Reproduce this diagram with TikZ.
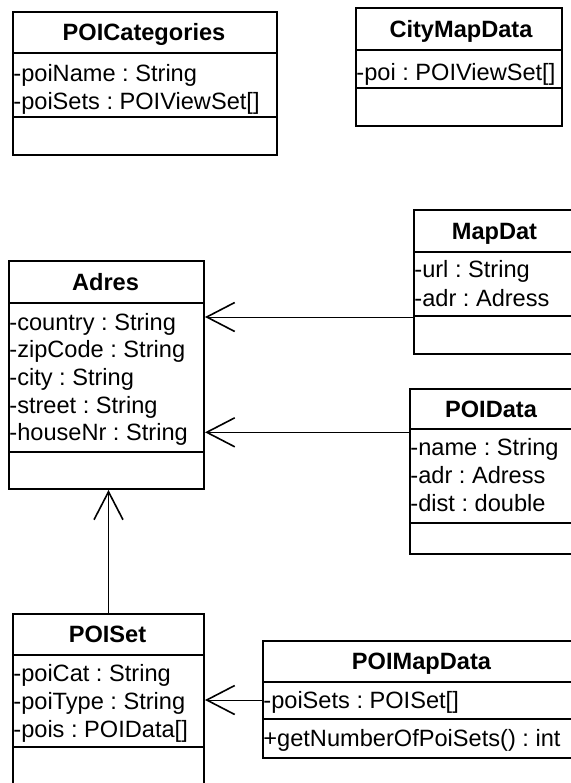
\documentclass[tikz,border=0pt]{standalone}
\usepackage{fontspec}
\setmainfont{Liberation Sans}
\usetikzlibrary{arrows.meta}
\frenchspacing

% A UML class box: name, left, top, right, bottom, first and second separator
\newcommand\umlclass[7]{%
  \node[umlbox, anchor=north west,
        minimum width={(#4-#2)*0.5pt}, minimum height={(#5-#3)*0.5pt}] (#1) at (#2,#3) {};
  \draw[sepline] (#1.west |- 0,#6) -- (#1.east |- 0,#6);
  \draw[sepline] (#1.west |- 0,#7) -- (#1.east |- 0,#7);
}

\begin{document}
\begin{tikzpicture}[x=0.5pt,y=-0.5pt,
  umlbox/.style={draw, line width=1pt, inner sep=0pt},
  sepline/.style={line width=1pt},
  classname/.style={font=\fontsize{11.8pt}{13.8pt}\selectfont\bfseries,
                    inner sep=0pt, text height=8.5pt, text depth=0pt},
  member/.style={font=\fontsize{11.8pt}{13.8pt}\selectfont,
                 inner sep=0pt, text height=8.5pt, text depth=0pt, anchor=west},
  assoc/.style={line width=0.5pt,
                -{Straight Barb[length=14pt,width=14.5pt,line width=0.8pt]}}
]
\useasboundingbox (0,0) rectangle (571,783);

% class boxes
\umlclass{poicat}{12}{11}{276}{154}{53}{117}
\umlclass{citymap}{355}{7}{561}{125}{50}{88}
\umlclass{adres}{8}{260}{203}{488}{303}{452}
\umlclass{mapdat}{413}{209}{576}{353}{252}{316}
\umlclass{poidata}{409}{388}{573}{553}{429}{523}
\umlclass{poiset}{12}{613}{203}{790}{655}{747}
\umlclass{poimap}{262}{640}{581}{757}{682}{719}

% class names
\node[classname] (poicat-t)  at (144,32)    {POICategories};
\node[classname] (citymap-t) at (461,28.5)  {CityMapData};
\node[classname] (adres-t)   at (105.5,281.5) {Adres};
\node[classname] (mapdat-t)  at (494.5,230.5) {MapDat};
\node[classname] (poidata-t) at (491,408.5) {POIData};
\node[classname] (poiset-t)  at (107.5,634) {POISet};
\node[classname] (poimap-t)  at (421.5,661) {POIMapData};

% attributes and operations
\node[member] (poicat-m1) at (13,73)  {-poiName : String};
\node[member] (poicat-m2) at (13,101) {-poiSets : POIViewSet[]};

\node[member] (citymap-m1) at (356,72) {-poi : POIViewSet[]};

\node[member] (adres-m1) at (9,321.5) {-country : String};
\node[member] (adres-m2) at (9,349.2) {-zipCode : String};
\node[member] (adres-m3) at (9,376.9) {-city : String};
\node[member] (adres-m4) at (9,404.6) {-street : String};
\node[member] (adres-m5) at (9,432.3) {-houseNr : String};

\node[member] (mapdat-m1) at (414,269)   {-url : String};
\node[member] (mapdat-m2) at (414,297.5) {-adr : Adress};

\node[member] (poidata-m1) at (410,447) {-name : String};
\node[member] (poidata-m2) at (410,475) {-adr : Adress};
\node[member] (poidata-m3) at (410,503) {-dist : double};

\node[member] (poiset-m1) at (13,673) {-poiCat : String};
\node[member] (poiset-m2) at (13,701) {-poiType : String};
\node[member] (poiset-m3) at (13,729) {-pois : POIData[]};

\node[member] (poimap-m1) at (263,700) {-poiSets : POISet[]};
\node[member] (poimap-m2) at (263,738) {+getNumberOfPoiSets() : int};

% associations
\draw[assoc] (mapdat.west |- 0,317) -- (adres.east |- 0,317);
\draw[assoc] (poidata.west |- adres-m5) -- (adres.east |- adres-m5);
\draw[assoc] (poiset.north) -- (poiset.north |- adres.south);
\draw[assoc] (poimap.west |- poimap-m1) -- (poiset.east |- poimap-m1);
\end{tikzpicture}
\end{document}
